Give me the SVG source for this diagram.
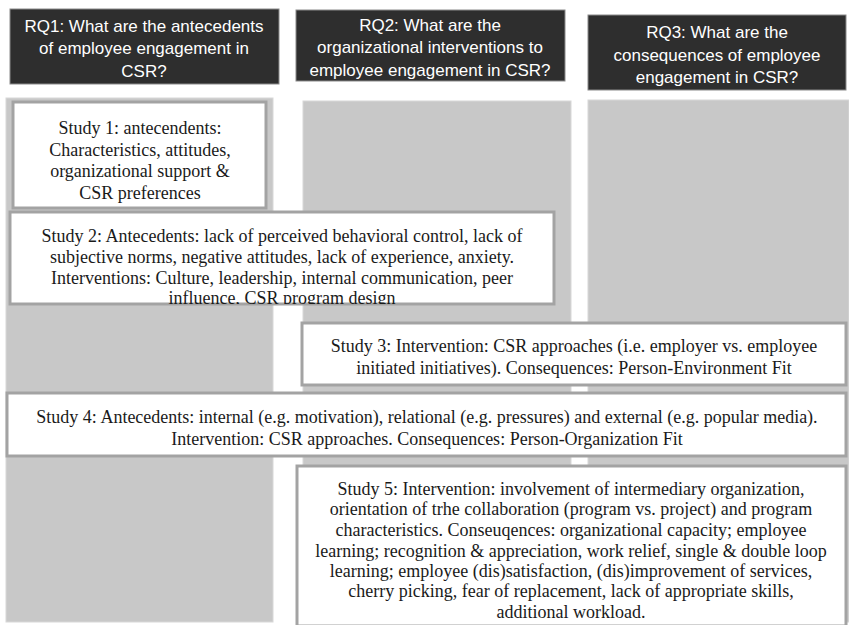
<svg xmlns="http://www.w3.org/2000/svg" width="849" height="625" viewBox="0 0 849 625">
<style>
.hdr{fill:#2e2e2e;stroke:#8a8a8a;stroke-width:1}
.ht{font-family:"Liberation Sans",Arial,sans-serif;font-size:17px;fill:#ffffff;text-anchor:middle}
.col{fill:#c8c8c8;stroke:#d8d8d8;stroke-width:1}
.box{fill:#ffffff;stroke:#a3a3a3;stroke-width:3}
.st{font-family:"Liberation Serif","Times New Roman",serif;font-size:18px;fill:#1a1a1a;text-anchor:middle}
</style>
<defs>
<clipPath id="c2"><rect x="10" y="212" width="544" height="92"/></clipPath>
</defs>
<rect width="849" height="625" fill="#ffffff"/>
<g id="columns">
<rect class="col" x="6" y="98" width="267" height="524"/>
<rect class="col" x="303" y="101" width="268" height="521"/>
<rect class="col" x="588" y="100" width="261" height="522"/>
</g>
<g id="rq1">
<rect class="hdr" x="10" y="9" width="269" height="75"/>
<text class="ht" x="144" y="32">RQ1: What are the antecedents</text>
<text class="ht" x="144" y="54">of employee engagement in</text>
<text class="ht" x="144" y="77">CSR?</text>
</g>
<g id="rq2">
<rect class="hdr" x="296" y="10" width="269" height="71"/>
<text class="ht" x="430" y="31">RQ2: What are the</text>
<text class="ht" x="430" y="53">organizational interventions to</text>
<text class="ht" x="430" y="76">employee engagement in CSR?</text>
</g>
<g id="rq3">
<rect class="hdr" x="588" y="15" width="258" height="75"/>
<text class="ht" x="717" y="38">RQ3: What are the</text>
<text class="ht" x="717" y="61">consequences of employee</text>
<text class="ht" x="717" y="83">engagement in CSR?</text>
</g>
<g id="study1">
<rect class="box" x="13" y="102" width="253" height="106"/>
<text class="st" x="140" y="134">Study 1: antecendents:</text>
<text class="st" x="140" y="156">Characteristics, attitudes,</text>
<text class="st" x="140" y="177">organizational support &amp;</text>
<text class="st" x="140" y="199">CSR preferences</text>
</g>
<g id="study2">
<rect class="box" x="10" y="212" width="544" height="92"/>
<g clip-path="url(#c2)">
<text class="st" x="282" y="242">Study 2: Antecedents: lack of perceived behavioral control, lack of</text>
<text class="st" x="282" y="263">subjective norms, negative attitudes, lack of experience, anxiety.</text>
<text class="st" x="282" y="284">Interventions: Culture, leadership, internal communication, peer</text>
<text class="st" x="282" y="304">influence, CSR program design</text>
</g>
</g>
<g id="study3">
<rect class="box" x="302" y="323" width="544" height="62"/>
<text class="st" x="574" y="352">Study 3: Intervention: CSR approaches (i.e. employer vs. employee</text>
<text class="st" x="574" y="374">initiated initiatives). Consequences: Person-Environment Fit</text>
</g>
<g id="study4">
<rect class="box" x="7" y="393" width="839" height="63"/>
<text class="st" x="427" y="423">Study 4: Antecedents: internal (e.g. motivation), relational (e.g. pressures) and external (e.g. popular media).</text>
<text class="st" x="427" y="445">Intervention: CSR approaches. Consequences: Person-Organization Fit</text>
</g>
<g id="study5">
<rect class="box" x="297" y="466" width="549" height="160"/>
<text class="st" x="571" y="495">Study 5: Intervention: involvement of intermediary organization,</text>
<text class="st" x="571" y="515">orientation of trhe collaboration (program vs. project) and program</text>
<text class="st" x="571" y="536">characteristics. Conseuqences: organizational capacity; employee</text>
<text class="st" x="571" y="557">learning; recognition &amp; appreciation, work relief, single &amp; double loop</text>
<text class="st" x="571" y="577">learning; employee (dis)satisfaction, (dis)improvement of services,</text>
<text class="st" x="571" y="597">cherry picking, fear of replacement, lack of appropriate skills,</text>
<text class="st" x="571" y="618">additional workload.</text>
</g>
<g id="connectors"></g>
</svg>
